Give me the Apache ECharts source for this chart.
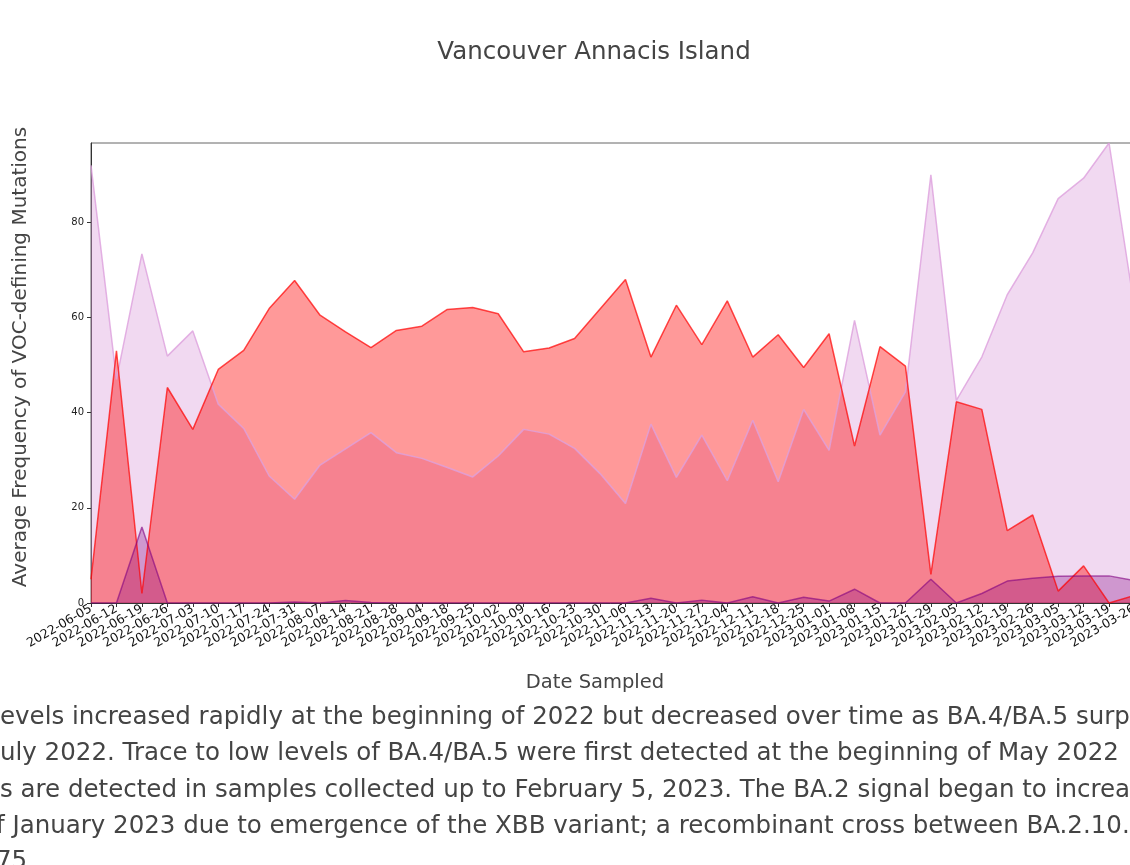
<!DOCTYPE html>
<html>
<head>
<meta charset="utf-8">
<title>Vancouver Annacis Island</title>
<script src="https://cdn.jsdelivr.net/npm/echarts@6/dist/echarts.min.js"></script>
<style>
  html, body { margin: 0; padding: 0; background: #fff; overflow: hidden; }
  #wrap { position: relative; width: 1130px; height: 865px; overflow: hidden; }
  #chart { position: absolute; left: 0; top: 0; width: 1130px; height: 865px; }
  .note {
    position: absolute;
    white-space: nowrap;
    font-family: 'DejaVu Sans', sans-serif;
    font-size: 24.5px;
    line-height: 36px;
    color: #444;
  }
</style>
</head>
<body>
<div id="wrap">
  <div id="chart"></div>
  <div class="note" style="left:0px;top:698px">evels increased rapidly at the beginning of 2022 but decreased over time as BA.4/BA.5 surpassed</div>
  <div class="note" style="left:0px;top:734px">uly 2022. Trace to low levels of BA.4/BA.5 were first detected at the beginning of May 2022</div>
  <div class="note" style="left:0px;top:771px">s are detected in samples collected up to February 5, 2023. The BA.2 signal began to increase</div>
  <div class="note" style="left:-4px;top:807px">f January 2023 due to emergence of the XBB variant; a recombinant cross between BA.2.10.1</div>
  <div class="note" style="left:-4px;top:842px">75</div>
</div>
<script>
// weekly sample dates (2022-09-11 has no sample)
const dates = [
  '2022-06-05', '2022-06-12', '2022-06-19', '2022-06-26', '2022-07-03', '2022-07-10',
  '2022-07-17', '2022-07-24', '2022-07-31', '2022-08-07', '2022-08-14', '2022-08-21',
  '2022-08-28', '2022-09-04', '2022-09-18', '2022-09-25', '2022-10-02', '2022-10-09',
  '2022-10-16', '2022-10-23', '2022-10-30', '2022-11-06', '2022-11-13', '2022-11-20',
  '2022-11-27', '2022-12-04', '2022-12-11', '2022-12-18', '2022-12-25', '2023-01-01',
  '2023-01-08', '2023-01-15', '2023-01-22', '2023-01-29', '2023-02-05', '2023-02-12',
  '2023-02-19', '2023-02-26', '2023-03-05', '2023-03-12', '2023-03-19', '2023-03-26'
]

// light purple
const ba2 = [
  92, 47, 73.4, 51.9, 57.2, 41.8, 36.7, 26.7, 21.8, 29, 32.4, 35.8,
  31.6, 30.4, 28.5, 26.5, 30.9, 36.5, 35.5, 32.5, 27.2, 20.9, 37.6, 26.4,
  35.3, 25.7, 38.4, 25.5, 40.7, 32.1, 59.4, 35.3, 44.4, 90, 42.6, 51.7,
  64.8, 73.6, 85, 89.3, 96.7, 62
]

// red
const ba45 = [
  5, 53, 2, 45.3, 36.5, 49.1, 53.1, 61.9, 67.8, 60.5, 57, 53.7,
  57.3, 58.2, 61.7, 62.1, 60.8, 52.8, 53.6, 55.6, 61.8, 68, 51.7, 62.6,
  54.3, 63.5, 51.7, 56.4, 49.5, 56.6, 33, 53.9, 49.8, 6, 42.3, 40.7,
  15.2, 18.5, 2.5, 7.8, 0, 1.6
]

// dark purple
const other = [
  0, 0, 16, 0, 0, 0, 0, 0, 0.2, 0, 0.5, 0.1,
  0, 0, 0, 0, 0, 0, 0, 0, 0, 0, 1.0, 0,
  0.6, 0, 1.3, 0, 1.2, 0.4, 2.9, 0, 0, 5.0, 0, 2.0,
  4.6, 5.2, 5.6, 5.7, 5.7, 4.7
]

const yTicks = [0, 20, 40, 60, 80]

const chart = echarts.init(document.getElementById('chart'))

function areaSeries(name, data, line, fill, width) {
  return {
    name: name,
    type: 'line',
    data: data,
    symbol: 'none',
    smooth: false,
    lineStyle: { color: line, width: width },
    areaStyle: { color: fill, opacity: 1 },
    emphasis: { disabled: true }
  }
}

chart.setOption({
  animation: false,
  title: {
    text: 'Vancouver Annacis Island',
    left: 589,
    top: 35,
    textAlign: 'center',
    textStyle: {
      fontFamily: 'DejaVu Sans',
      fontSize: 24.5,
      fontWeight: 'normal',
      color: '#444'
    }
  },
  grid: {
    left: 91,
    top: 143,
    width: 1043.5,
    height: 460,
    outerBoundsMode: 'none',
    show: true,
    borderColor: '#666',
    borderWidth: 1,
    backgroundColor: 'transparent'
  },
  xAxis: {
    type: 'category',
    data: dates,
    boundaryGap: false,
    axisLine: { lineStyle: { color: '#333' } },
    axisTick: { alignWithLabel: true, length: 4, interval: 0, lineStyle: { color: '#333' } },
    axisLabel: {
      interval: 0,
      rotate: 30,
      margin: 5,
      fontFamily: 'DejaVu Sans',
      fontSize: 12.5,
      color: '#111'
    },
    splitLine: { show: false }
  },
  yAxis: {
    type: 'value',
    min: 0,
    max: 96.7,
    axisLine: { show: true, lineStyle: { color: '#333' } },
    axisTick: { show: true, length: 4, customValues: yTicks, lineStyle: { color: '#333' } },
    axisLabel: {
      customValues: yTicks,
      margin: 7,
      fontFamily: 'DejaVu Sans',
      fontSize: 10,
      color: '#222'
    },
    splitLine: { show: false }
  },
  graphic: [
    {
      type: 'text',
      x: 21,
      y: 357,
      rotation: Math.PI / 2,
      style: {
        text: 'Average Frequency of VOC-defining Mutations',
        align: 'center',
        verticalAlign: 'middle',
        font: '20px "DejaVu Sans"',
        fill: '#444'
      }
    },
    {
      type: 'text',
      x: 595,
      y: 683,
      style: {
        text: 'Date Sampled',
        align: 'center',
        verticalAlign: 'middle',
        font: '19.5px "DejaVu Sans"',
        fill: '#444'
      }
    }
  ],
  series: [
    areaSeries('BA.2', ba2, 'rgba(221,160,221,0.8)', 'rgba(221,160,221,0.4)', 1.5),
    areaSeries('BA.4/BA.5', ba45, 'rgba(255,0,0,0.7)', 'rgba(255,0,0,0.4)', 1.5),
    areaSeries('Other', other, 'rgba(128,0,128,0.6)', 'rgba(128,0,128,0.3)', 1.5)
  ]
})
</script>
</body>
</html>
